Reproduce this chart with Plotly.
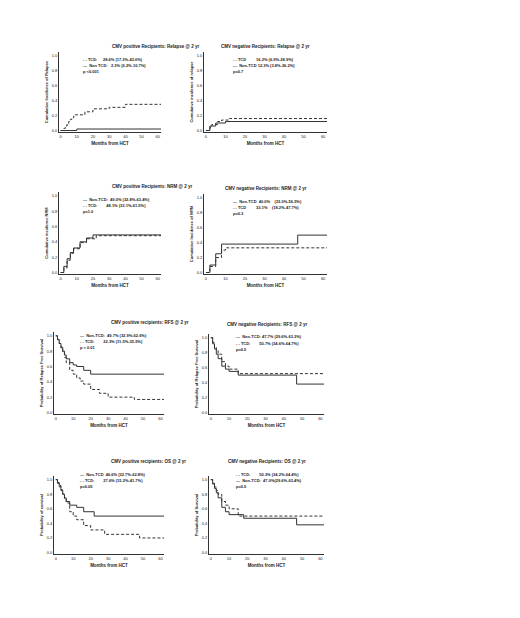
import plotly.graph_objects as go

# ---- data (months, value) step curves ----
p1_tcd_t = [0, 2, 3, 4, 5, 6, 7, 8, 9, 15, 20, 30, 40, 62]
p1_tcd_y = [0, 0.03, 0.06, 0.09, 0.12, 0.15, 0.17, 0.19, 0.21, 0.25, 0.29, 0.31, 0.35, 0.35]
p1_non_t = [0, 10, 62]
p1_non_y = [0, 0.02, 0.02]
p2_tcd_t = [0, 2, 3, 6, 8, 12, 62]
p2_tcd_y = [0, 0.04, 0.08, 0.12, 0.14, 0.16, 0.16]
p2_non_t = [0, 2, 5, 10, 62]
p2_non_y = [0, 0.06, 0.10, 0.12, 0.12]
p3_non_t = [0, 2, 4, 6, 8, 12, 16, 20, 62]
p3_non_y = [0, 0.08, 0.18, 0.26, 0.32, 0.40, 0.45, 0.49, 0.49]
p3_tcd_t = [0, 2, 4, 6, 8, 12, 16, 22, 62]
p3_tcd_y = [0, 0.06, 0.16, 0.25, 0.31, 0.39, 0.44, 0.48, 0.48]
p4_non_t = [0, 2, 5, 8, 47, 62]
p4_non_y = [0, 0.10, 0.25, 0.38, 0.50, 0.50]
p4_tcd_t = [0, 2, 5, 8, 10, 62]
p4_tcd_y = [0, 0.08, 0.20, 0.30, 0.33, 0.33]
p5_non_t = [0, 1, 2, 3, 4, 5, 6, 8, 10, 12, 16, 20, 62]
p5_non_y = [1, 0.95, 0.9, 0.85, 0.8, 0.75, 0.7, 0.65, 0.62, 0.6, 0.55, 0.5, 0.5]
p5_tcd_t = [0, 1, 2, 3, 4, 5, 6, 8, 10, 12, 14, 16, 20, 25, 30, 45, 62]
p5_tcd_y = [1, 0.95, 0.9, 0.84, 0.78, 0.72, 0.65, 0.55, 0.5, 0.45, 0.41, 0.37, 0.30, 0.25, 0.2, 0.17, 0.17]
p6_non_t = [0, 1, 2, 3, 4, 6, 8, 10, 15, 47, 62]
p6_non_y = [1, 0.92, 0.85, 0.78, 0.72, 0.62, 0.58, 0.55, 0.5, 0.38, 0.38]
p6_tcd_t = [0, 1, 2, 3, 4, 6, 8, 10, 15, 62]
p6_tcd_y = [1, 0.94, 0.88, 0.83, 0.78, 0.68, 0.62, 0.58, 0.52, 0.52]
p7_non_t = [0, 1, 2, 3, 4, 5, 6, 8, 12, 16, 22, 62]
p7_non_y = [1, 0.95, 0.9, 0.85, 0.8, 0.75, 0.7, 0.65, 0.62, 0.56, 0.5, 0.5]
p7_tcd_t = [0, 1, 2, 3, 4, 5, 6, 8, 10, 12, 16, 20, 28, 48, 62]
p7_tcd_y = [1, 0.96, 0.92, 0.86, 0.8, 0.74, 0.68, 0.56, 0.5, 0.45, 0.37, 0.31, 0.25, 0.2, 0.2]
p8_tcd_t = [0, 1, 2, 3, 4, 6, 8, 10, 15, 62]
p8_tcd_y = [1, 0.95, 0.9, 0.85, 0.8, 0.7, 0.65, 0.6, 0.5, 0.5]
p8_non_t = [0, 1, 2, 3, 4, 6, 8, 10, 18, 47, 62]
p8_non_y = [1, 0.94, 0.88, 0.82, 0.75, 0.62, 0.56, 0.52, 0.47, 0.38, 0.38]

titles = ["CMV positive Recipients: Relapse @ 2 yr", "CMV negative Recipients: Relapse @ 2 yr",
          "CMV positive Recipients: NRM @ 2 yr", "CMV negative Recipients: NRM @ 2 yr",
          "CMV positive recipients: RFS @ 2 yr", "CMV negative Recipients: RFS @ 2 yr",
          "CMV positive recipients: OS @ 2 yr", "CMV negative Recipients: OS @ 2 yr"]
ylabels = ["Cumulative Incidence of Relapse", "Cumulative incidence of relapse",
           "Cumulative incidence NRM", "Cumulative Incidence of NRM",
           "Probability of Relapse Free Survival", "Probability of Relapse Free Survival",
           "Probability of survival", "Probability of Survival"]
legend_texts = [
    ["- - TCD:     28.6% (17.3%-43.0%)", "—  Non TCD:   2.3% (0.2%-10.7%)", "p <0.001"],
    ["- - TCD         16.2% (6.9%-28.9%)", "—  Non-TCD 12.3% (3.8%-26.2%)", "p=0.7"],
    ["—  Non-TCD:  49.0% (32.8%-63.4%)", "- - TCD:        48.1% (33.1%-61.5%)", "p=1.0"],
    ["—  Non-TCD  40.0%    (23.0%-56.5%)", "- - TCD         33.1%    (18.2%-47.7%)", "p=0.3"],
    ["—  Non-TCD:  49.7% (32.9%-62.6%)", "- - TCD:        22.3% (11.5%-35.5%)", "p < 0.01"],
    ["—  Non-TCD: 47.7% (29.6%-63.3%)", "- - TCD:        50.7% (34.6%-64.7%)", "p=0.5"],
    ["—  Non-TCD  46.6% (32.7%-62.8%)", "- - TCD:        27.6% (15.2%-41.7%)", "p=0.05"],
    ["- - TCD:        50.3% (34.2%-64.4%)", "—  Non-TCD:  47.0%(29.6%-63.4%)", "p=0.5"],
]
curves = [
    [(p1_tcd_t, p1_tcd_y, "dash"), (p1_non_t, p1_non_y, "solid")],
    [(p2_tcd_t, p2_tcd_y, "dash"), (p2_non_t, p2_non_y, "solid")],
    [(p3_non_t, p3_non_y, "solid"), (p3_tcd_t, p3_tcd_y, "dash")],
    [(p4_non_t, p4_non_y, "solid"), (p4_tcd_t, p4_tcd_y, "dash")],
    [(p5_non_t, p5_non_y, "solid"), (p5_tcd_t, p5_tcd_y, "dash")],
    [(p6_non_t, p6_non_y, "solid"), (p6_tcd_t, p6_tcd_y, "dash")],
    [(p7_non_t, p7_non_y, "solid"), (p7_tcd_t, p7_tcd_y, "dash")],
    [(p8_tcd_t, p8_tcd_y, "dash"), (p8_non_t, p8_non_y, "solid")],
]
# pixel layout boxes (x0, x1, ytop, ybottom)
boxes = [(51, 153, 44, 124), (196, 319, 44, 124),
         (51, 153, 184, 266), (196, 319, 186, 266),
         (46, 156, 324, 406), (201, 316, 326, 406),
         (46, 156, 468, 546), (201, 316, 468, 546)]
W, H = 520, 618
fig = go.Figure()
F = "Liberation Sans"
for i in range(8):
    x0, x1, yt, yb = boxes[i]
    n = "" if i == 0 else str(i + 1)
    for t, y, d in curves[i]:
        fig.add_trace(go.Scatter(x=t, y=y, mode="lines",
                                 line=dict(shape="hv", color="#333", width=1, dash="3px,2px" if d == "dash" else "solid"),
                                 xaxis="x" + n, yaxis="y" + n, showlegend=False))
    fig.layout["xaxis" + n] = dict(domain=[x0 / W, x1 / W], anchor="y" + n, range=[-1, 62],
                                   tickvals=[0, 10, 20, 30, 40, 50, 60], showgrid=False, zeroline=False,
                                   showline=True, linecolor="#333", linewidth=1,
                                   tickfont=dict(size=4, family=F, color="#222"),
                                   title=dict(text="<b>Months from HCT</b>", font=dict(size=4.5, family=F, color="#222"), standoff=4))
    fig.layout["yaxis" + n] = dict(domain=[1 - yb / H, 1 - yt / H], anchor="x" + n, range=[-0.02, 1.05],
                                   tickvals=[0, 0.2, 0.4, 0.6, 0.8, 1.0], ticktext=["0.0", "0.2", "0.4", "0.6", "0.8", "1.0"],
                                   showgrid=False, zeroline=False, showline=True, linecolor="#333", linewidth=1,
                                   tickfont=dict(size=4, family=F, color="#222"),
                                   title=dict(text="<b>" + ylabels[i] + "</b>", font=dict(size=4, family=F, color="#222"), standoff=3))
    fig.add_annotation(x=(x0 + x1) / 2 / W, y=1 - (yt - 10) / H, xref="paper", yref="paper",
                       text="<b>" + titles[i] + "</b>", showarrow=False, font=dict(size=4.5, family=F, color="#222"))
    for k, line in enumerate(legend_texts[i]):
        fig.add_annotation(x=(x0 + (x1 - x0) * 0.22) / W, y=1 - (yt + 3 + k * 6) / H, xref="paper", yref="paper",
                           xanchor="left", text="<b>" + line + "</b>", showarrow=False,
                           font=dict(size=4, family=F, color="#222"))
fig.update_layout(width=W, height=H, margin=dict(l=0, r=0, t=0, b=0), plot_bgcolor="white", paper_bgcolor="white")
fig.write_html("out.html")
